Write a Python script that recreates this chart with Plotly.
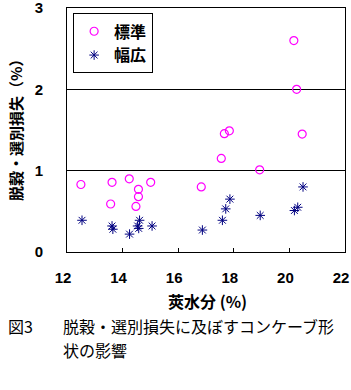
import plotly.graph_objects as go

# 標準 (standard concave)
std_x = [12.50, 13.62, 14.24, 15.01, 14.57, 14.57, 13.57, 14.48, 16.83, 17.55, 18.93, 17.66, 17.84, 20.46, 20.16, 20.26]
std_y = [0.83, 0.857, 0.90, 0.857, 0.77, 0.68, 0.59, 0.56, 0.80, 1.15, 1.01, 1.455, 1.49, 1.45, 2.60, 2.00]
# 幅広 (wide concave)
wide_x = [12.54, 13.62, 13.65, 14.25, 14.61, 14.54, 14.58, 15.06, 16.87, 17.59, 17.71, 17.86, 18.95, 20.18, 20.30, 20.49]
wide_y = [0.39, 0.32, 0.28, 0.22, 0.39, 0.32, 0.29, 0.32, 0.27, 0.39, 0.53, 0.65, 0.45, 0.51, 0.55, 0.80]

x_ticks = [12, 14, 16, 18, 20, 22]
y_ticks = [0, 1, 2, 3]

JP = "Noto Sans CJK JP"
L, R, T, B = 67, 6, 8, 138
W, H = 351, 390
pw, ph = W - L - R, H - T - B

def px(x):
    return (x - L) / pw

def py(y):
    return (H - B - y) / ph

fig = go.Figure()
fig.add_trace(go.Scatter(x=std_x, y=std_y, mode="markers", name="標準",
                         marker=dict(symbol="circle-open", size=8, color="#FF00FF",
                                     line=dict(width=1.2, color="#FF00FF"))))
fig.add_trace(go.Scatter(x=wide_x, y=wide_y, mode="markers", name="幅広",
                         marker=dict(symbol="asterisk-open", size=8, color="#000080",
                                     line=dict(width=1, color="#000080"))))

fig.update_layout(
    width=W, height=H,
    margin=dict(l=L, r=R, t=T, b=B),
    paper_bgcolor="white", plot_bgcolor="white",
    showlegend=True,
    legend=dict(x=0.022, y=0.978, xanchor="left", yanchor="top",
                bordercolor="black", borderwidth=1, bgcolor="white",
                font=dict(family=JP, size=16, color="black", weight="bold"),
                itemwidth=30, tracegroupgap=0),
    font=dict(family="Liberation Sans", color="black"),
)
fig.update_xaxes(range=[12, 22], tickvals=x_ticks, ticktext=[str(v) for v in x_ticks],
                 showgrid=False, zeroline=False, showline=True, linecolor="black", linewidth=1,
                 mirror=True, ticks="inside", ticklen=4, tickcolor="black",
                 tickfont=dict(family="Liberation Sans", size=15, color="black", weight="bold"),
                 ticklabelstandoff=12, ticklabelshift=-4, ticklabeloverflow="allow",
                 automargin=False)
fig.update_yaxes(range=[0, 3], tickvals=y_ticks, ticktext=[str(v) for v in y_ticks],
                 showgrid=True, gridcolor="black", gridwidth=1, zeroline=False,
                 showline=True, linecolor="black", linewidth=1,
                 mirror=True, ticks="inside", ticklen=4, tickcolor="black",
                 tickfont=dict(family="Liberation Sans", size=15, color="black", weight="bold"),
                 ticklabelstandoff=20, ticklabeloverflow="allow", automargin=False)

ann = [
    dict(text="脱穀・選別損失（%）", x=px(15), y=py(127), textangle=-90,
         xanchor="center", yanchor="middle",
         font=dict(family=JP, size=15, color="black", weight="bold")),
    dict(text="莢水分 (%)", x=px(207), y=py(301), xanchor="center", yanchor="middle",
         font=dict(family=JP, size=16, color="black", weight="bold")),
    dict(text="図3", x=px(6), y=py(326), xanchor="left", yanchor="middle",
         font=dict(family=JP, size=16, color="black")),
    dict(text="脱穀・選別損失に及ぼすコンケーブ形", x=px(61), y=py(326),
         xanchor="left", yanchor="middle",
         font=dict(family=JP, size=16, color="black")),
    dict(text="状の影響", x=px(61), y=py(350),
         xanchor="left", yanchor="middle",
         font=dict(family=JP, size=16, color="black")),
]
for a in ann:
    fig.add_annotation(xref="paper", yref="paper", showarrow=False, **a)

fig.write_html("out.html")
